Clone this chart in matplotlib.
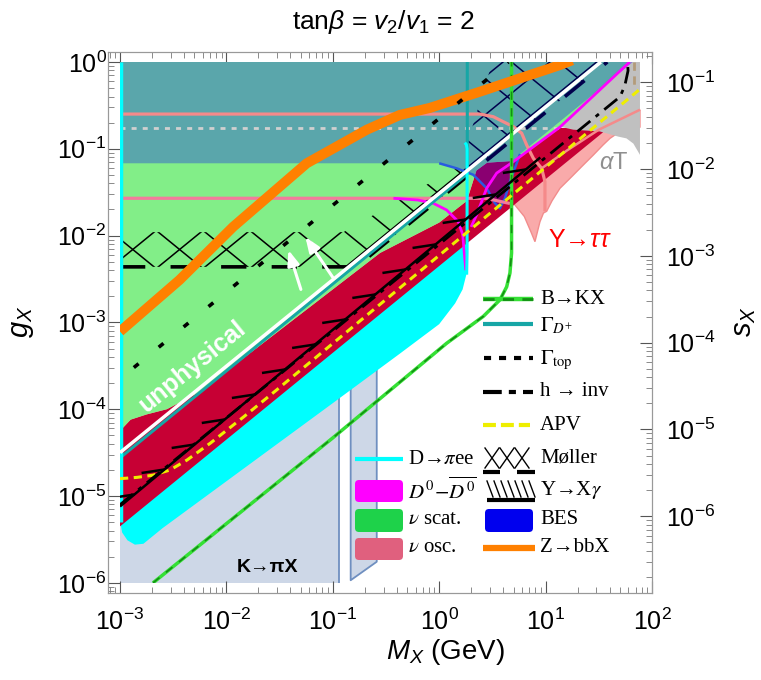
import numpy as np
import matplotlib
matplotlib.use("Agg")
import matplotlib.pyplot as plt
import matplotlib.transforms as mtransforms
import matplotlib.patheffects as pe
from matplotlib.lines import Line2D
from matplotlib.patches import Polygon, Rectangle, FancyBboxPatch
from matplotlib.ticker import FixedLocator, NullFormatter, LogFormatterSciNotation

plt.rcParams.update({
    "font.family": ["Liberation Sans", "DejaVu Sans"],
    "mathtext.fontset": "custom",
    "mathtext.rm": "Liberation Sans",
    "mathtext.it": "Liberation Sans:italic",
    "mathtext.bf": "Liberation Sans:bold",
})

# every curve below is (log10 M_X / GeV, log10 g_X)
K_MAIN = [(-3.0, -6.0), (-0.942, -6.0), (-0.942, -3.0), (-3.0, -3.0)]
K_STRIP = [(-0.832, -5.97), (-0.587, -5.757), (-0.587, -3.0), (-0.832, -3.0)]

D_PIEE = [(-3.0, 0.0), (-3.0, -5.28), (-2.98, -5.42), (-2.93, -5.51), (-2.86, -5.56),
          (-2.78, -5.55), (-2.6, -5.37), (-2.0, -4.83), (-1.0, -3.93), (-0.37, -3.36),
          (0.0, -3.02), (0.15, -2.78), (0.22, -2.62), (0.255, -2.45), (0.26, -2.2),
          (0.26, 0.0)]
D_PIEE_LEFT = [(-2.99, 0.0), (-2.99, -5.3)]
D_PIEE_RIGHT = [(0.258, -2.45), (0.262, -2.2), (0.262, -1.0), (0.255, -0.95), (0.24, -0.93)]

UPS_TAUTAU = [(-3.0, -0.60), (0.383, -0.60), (0.508, -0.63), (0.602, -0.688), (0.697, -0.745),
              (0.775, -0.82), (0.822, -0.956), (0.885, -1.11), (0.963, -1.225), (1.2, -1.02),
              (1.5, -0.78), (1.887, -0.55), (1.887, -0.75), (1.7, -0.80), (1.605, -0.88),
              (1.54, -0.956), (1.45, -1.07), (1.354, -1.187), (1.23, -1.34), (1.135, -1.455),
              (1.06, -1.6), (1.01, -1.72), (0.98, -1.74), (0.947, -1.84), (0.90, -2.07),
              (0.86, -1.95), (0.80, -1.78), (0.70, -1.63), (-3.0, -5.30)]
UPS_TAUTAU_LINE = [(-3.0, -0.60), (0.383, -0.60), (0.508, -0.63), (0.602, -0.688),
                   (0.697, -0.745), (0.775, -0.82), (0.822, -0.956), (0.885, -1.11),
                   (0.963, -1.225), (0.994, -1.38), (0.994, -1.72)]
UPS_TAUTAU_LINE2 = [(0.963, -1.225), (1.2, -1.02), (1.5, -0.78), (1.887, -0.55)]

BAND_TOP = [(1.54, -0.76), (1.135, -0.76), (0.697, -1.14), (0.45, -1.16), (0.35, -1.25),
            (0.26, -1.6), (0.0, -1.85), (-0.556, -2.2), (-2.25, -3.8), (-2.56, -4.0),
            (-2.75, -4.06), (-2.9, -4.12), (-3.0, -4.25)]
BAND_LOW = [(-3.0, -5.35), (1.54, -0.81)]

ALPHA_T = [(0.9, 0.0), (1.887, 0.0), (1.887, -1.07), (1.825, -0.94), (1.76, -0.88),
           (1.684, -0.86), (1.51, -0.80), (1.26, -0.78), (1.135, -0.745), (0.9, -0.745)]

NU_SCAT = [(-3.0, 0.0), (1.79, 0.0), (1.135, -0.76), (0.697, -1.14), (0.45, -1.16),
           (0.35, -1.25), (0.26, -1.6), (0.0, -1.85), (-0.556, -2.2), (-2.25, -3.8),
           (-2.56, -4.0), (-2.75, -4.06), (-2.9, -4.12), (-3.0, -4.25)]

BES = [(-3.0, 0.0), (1.82, 0.0), (0.76, -1.06), (0.665, -1.379), (0.618, -1.57),
       (0.571, -1.686), (0.524, -1.628), (0.446, -1.455), (0.321, -1.30), (0.164, -1.225),
       (0.0, -1.167), (-3.0, -1.167)]

MOLLER = [(-3.0, -2.36), (-0.78, -2.36), (1.58, 0.0), (0.5, 0.0), (0.2, -1.19),
          (-0.37, -1.59), (-0.9, -1.96), (-3.0, -1.96)]

NU_OSC_LINE = [(-3.0, -1.57), (0.45, -1.57), (0.55, -1.6), (0.665, -1.63)]
GRAY_DASH = [(-3.0, -0.755), (1.13, -0.755)]
D0_LEFT = [(-0.43, -1.57), (-0.2, -1.59), (-0.055, -1.628), (0.07, -1.705), (0.18, -1.84),
           (0.221, -1.99), (0.243, -2.30), (0.25, -2.4)]
D0_RIGHT = [(0.30, -1.9), (0.352, -1.76), (0.446, -1.455), (0.54, -1.28), (0.697, -1.148),
            (0.947, -0.92), (1.135, -0.75), (1.79, 0.0)]

GAMMA_DP = [(-3.0, -4.56), (0.264, -1.29), (0.264, 0.0)]
UNPHYS = [(-3.0, -4.50), (1.52, 0.0)]
B_KX = [(-2.69, -6.0), (-1.0, -4.33), (0.07, -3.24), (0.415, -2.93), (0.571, -2.74),
        (0.634, -2.59), (0.665, -2.43), (0.68, -2.2), (0.68, 0.0)]
GAMMA_TOP = [(-2.87, -3.52), (0.65, 0.0)]
H_INV = [(-3.0, -5.10), (1.70, -0.40), (1.745, -0.27), (1.775, -0.1), (1.77, 0.0)]
UPS_XGAMMA = [(-3.0, -5.12), (0.95, -1.10)]
APV = [(-3.0, -4.80), (-2.84, -4.785), (-2.69, -4.76), (-2.53, -4.70), (-2.37, -4.585),
       (-2.15, -4.39), (-1.84, -4.09), (-1.53, -3.78), (1.90, -0.30)]
Z_BBX = [(-3.0, -3.105), (-2.44, -2.51), (-1.935, -1.897), (-1.245, -1.167), (-0.68, -0.78),
         (-0.37, -0.61), (-0.09, -0.53), (0.383, -0.342), (0.853, -0.15), (1.135, -0.035),
         (1.25, 0.02)]
TAN_MARK = [(1.83, 0.0), (1.83, -0.3)]
ARROWS = [((-0.995, -2.49), (-1.258, -2.014)), ((-1.30, -2.62), (-1.417, -2.166))]

X_DECADES = [-3, -2, -1, 0, 1, 2]
G_DECADES = [-6, -5, -4, -3, -2, -1, 0]
S_DECADES = [-6, -5, -4, -3, -2, -1]

XLIM = (10 ** -3.1128, 1e2)
YLIM = (10 ** -6.117, 10 ** 0.115)
S_OVER_G = 0.171

W, H = 761, 680


def dec(pts):
    a = 10.0 ** np.asarray(pts, dtype=float)
    return a[:, 0], a[:, 1]


def log_ticks(lo, hi, decades):
    major = [10.0 ** d for d in decades]
    minor = [m * 10.0 ** d for d in range(min(decades) - 1, max(decades) + 1)
             for m in range(2, 10) if lo <= m * 10.0 ** d <= hi]
    return major, minor


fig = plt.figure(figsize=(W / 100, H / 100), dpi=100)
ax = fig.add_axes([108 / W, 87 / H, 544 / W, 541 / H])
ax.set_xscale("log")
ax.set_yscale("log")
ax.set_xlim(*XLIM)
ax.set_ylim(*YLIM)
clip = Rectangle((1e-3, 1e-6), 100 - 1e-3, 1 - 1e-6, transform=ax.transData)


def area(pts, color, z, **kw):
    x, y = dec(pts)
    p = Polygon(np.column_stack([x, y]), closed=True, facecolor=color,
                edgecolor=kw.pop("edgecolor", "none"), zorder=z, **kw)
    ax.add_patch(p)
    p.set_clip_path(clip)
    return p


def curve(pts, color, lw, z, **kw):
    x, y = dec(pts)
    ln, = ax.plot(x, y, color=color, lw=lw, zorder=z, solid_capstyle="butt", **kw)
    ln.set_clip_path(clip)
    return ln


# filled regions, back to front
area(K_MAIN, "#cdd7e7", 1)
area(K_STRIP, "#cdd7e7", 1)
for seg in ([(-0.942, -6.0), (-0.942, -3.0)],
            [(-0.832, -3.0), (-0.832, -5.97), (-0.587, -5.757), (-0.587, -3.0)]):
    curve(seg, "#6f8fc0", 1.3, 1.2)
area(D_PIEE, "#00ffff", 2)
area(UPS_TAUTAU, "#f9aaaa", 2.5, edgecolor="#f28c8c", lw=1.0)
area(BAND_LOW + BAND_TOP, "#c70034", 3)
area(ALPHA_T, "#c0c0c0", 3.5)
area(NU_SCAT, "#82ee88", 4)

moller = Polygon(np.column_stack(dec(MOLLER)), closed=True, facecolor="none",
                 edgecolor="none", zorder=4.5)
ax.add_patch(moller)
for k in range(-12, 22):
    for sgn, c0 in ((1, 0.72), (-1, -5.04)):
        lx = np.array([-3.5, 2.5])
        ly = sgn * lx + c0 + 0.44 * k
        hl, = ax.plot(10 ** lx, 10 ** ly, color="black", lw=1.1, zorder=4.5)
        hl.set_clip_path(moller)
curve([(-3.0, -2.36), (-0.78, -2.36), (1.58, 0.0)], "black", 2.6, 4.6, dashes=(7, 7))

area(BES, "#0000ff", 5, alpha=0.3)
curve(BES[2:-1], "#2a5ae0", 1.8, 5.2)

# boundary lines
curve(UPS_TAUTAU_LINE, "#f58a8a", 2.3, 6)
curve(UPS_TAUTAU_LINE2, "#f58a8a", 1.8, 6)
curve(NU_OSC_LINE, "#f27b9c", 2.3, 6)
curve(GRAY_DASH, "#d0d0d0", 2.0, 6, dashes=(1.8, 2.2))
curve(D0_LEFT, "#ff00ff", 2.0, 6.1)
curve(D0_RIGHT, "#ff00ff", 2.0, 6.1)
curve(GAMMA_DP, "#17a6a6", 2.2, 6.2)
curve(D_PIEE_LEFT, "#00ffff", 2.5, 6.3)
curve(D_PIEE_RIGHT, "#00ffff", 2.2, 6.3)
curve(UNPHYS, "white", 2.5, 6.5)
curve(B_KX, "#35e035", 2.5, 6.6)
curve(B_KX, "#138f13", 1.2, 6.7, dashes=(5, 5))
curve(APV, "#eeee00", 2.2, 6.8, dashes=(2.7, 1.8))
curve(H_INV, "black", 2.0, 6.9, dashes=(6, 2.5, 1.5, 2.5))
yx = curve(UPS_XGAMMA, "black", 1.8, 7.0)
yx.set_path_effects([pe.withTickedStroke(spacing=27, angle=149, length=0.62)])
curve(TAN_MARK, "#b39b7a", 2.0, 7.0, dashes=(3, 2))
curve(Z_BBX, "#ff8000", 7.2, 7.2)
curve(GAMMA_TOP, "black", 2.6, 7.5, dashes=(1.7, 7.2))

for tail, tip in ARROWS:
    ax.annotate("", xy=(10 ** tip[0], 10 ** tip[1]), xytext=(10 ** tail[0], 10 ** tail[1]),
                arrowprops=dict(arrowstyle="-|>,head_width=0.35,head_length=0.9",
                                color="white", lw=2.2, shrinkA=0, shrinkB=0), zorder=7.6)

ax.text(10 ** -2.323, 10 ** -3.514, "unphysical", color="white", fontsize=18,
        fontweight="bold", rotation=39.2, rotation_mode="anchor", ha="center",
        va="center", zorder=8)
ax.text(10 ** -1.61, 10 ** -5.82, "K→πX", color="black", fontsize=14,
        fontweight="bold", ha="center", va="center", zorder=8)
ax.text(10 ** 1.323, 10 ** -2.05, r"Υ→$\tau\tau$", color="red", fontsize=18,
        ha="center", va="center", zorder=8)
ax.text(10 ** 1.643, 10 ** -1.163, r"$\alpha$T", color="#8f8f8f", fontsize=17,
        ha="center", va="center", zorder=8)

# frame and ticks
xmaj, xmin = log_ticks(*XLIM, X_DECADES)
gmaj, gmin = log_ticks(*YLIM, G_DECADES)
smaj, smin = log_ticks(YLIM[0] * S_OVER_G, YLIM[1] * S_OVER_G, S_DECADES)
for sp in ax.spines.values():
    sp.set_color("#999999")
ax.xaxis.set_major_locator(FixedLocator(xmaj))
ax.xaxis.set_minor_locator(FixedLocator(xmin))
ax.yaxis.set_major_locator(FixedLocator(gmaj))
ax.yaxis.set_minor_locator(FixedLocator(gmin))
ax.xaxis.set_major_formatter(LogFormatterSciNotation())
ax.yaxis.set_major_formatter(LogFormatterSciNotation())
ax.xaxis.set_minor_formatter(NullFormatter())
ax.yaxis.set_minor_formatter(NullFormatter())
ax.tick_params(which="major", direction="in", length=8.5, width=0.8, color="#555555",
               top=True, right=False, labelsize=18)
ax.tick_params(which="minor", direction="in", length=4.5, width=0.6, color="#777777",
               top=True, right=False)
ax.tick_params(axis="x", pad=11)
ax.tick_params(axis="y", pad=1)

ax2 = ax.twinx()
ax2.set_yscale("log")
ax2.set_ylim(YLIM[0] * S_OVER_G, YLIM[1] * S_OVER_G)
ax2.yaxis.set_major_locator(FixedLocator(smaj))
ax2.yaxis.set_minor_locator(FixedLocator(smin))
ax2.yaxis.set_major_formatter(LogFormatterSciNotation())
ax2.yaxis.set_minor_formatter(NullFormatter())
ax2.tick_params(which="major", direction="in", length=8.5, width=0.8, color="#555555",
                labelsize=18, pad=10)
ax2.tick_params(which="minor", direction="in", length=4.5, width=0.6, color="#777777")
for sp in ax2.spines.values():
    sp.set_color("#999999")

# labels placed in figure pixels (y measured from the top)
T = mtransforms.Affine2D().scale(1 / W, 1 / H) + fig.transFigure


def ftext(x, y, s, **kw):
    fig.text(x, H - y, s, transform=T, **kw)


ftext(383, 22, r"tan$\beta$ = $v_2/v_1$ = 2", fontsize=19, ha="center", va="center")
ftext(445, 652, r"$M_X$ (GeV)", fontsize=20, ha="center", va="center")
ftext(22, 322, r"$g_X$", fontsize=21, ha="center", va="center", rotation=90)
ftext(744, 322, r"$s_X$", fontsize=21, ha="center", va="center", rotation=90)

# legends
SERIF = dict(fontfamily="Liberation Serif", fontsize=15, va="center", ha="left",
             math_fontfamily="stix")


def fline(x0, x1, y, **kw):
    fig.add_artist(Line2D([x0, x1], [H - y, H - y], transform=T, solid_capstyle="butt", **kw))


def fbox(x0, y0, x1, y1, color):
    fig.add_artist(FancyBboxPatch((x0, H - y1), x1 - x0, y1 - y0, transform=T,
                                  boxstyle="round,pad=0,rounding_size=4",
                                  facecolor=color, edgecolor="none"))


fline(483, 533, 299, color="#35e035", lw=3.2)
fline(483, 533, 299, color="#138f13", lw=2.0, dashes=(4, 3))
ftext(540, 299, "B→KX", **SERIF)
fline(483, 533, 324, color="#17a6a6", lw=3.0)
ftext(540, 326, r"$\Gamma_{D^{+}}$", **SERIF)
fline(484, 533, 358, color="black", lw=3.0, dashes=(1.7, 1.9))
ftext(540, 360, r"$\Gamma_{\rm top}$", **SERIF)
fline(483, 533, 392, color="black", lw=3.0, dashes=(4.5, 1.7, 1.7, 1.7))
ftext(540, 392, "h → inv", **SERIF)
fline(483, 530, 425, color="#eeee00", lw=3.0, dashes=(3.1, 1.2))
ftext(540, 425, "APV", **SERIF)
for cx in (492, 507, 522):
    fig.add_artist(Line2D([cx - 7, cx + 7], [H - 448, H - 468], transform=T, color="black", lw=1.0))
    fig.add_artist(Line2D([cx - 7, cx + 7], [H - 468, H - 448], transform=T, color="black", lw=1.0))
fline(483, 500, 472, color="black", lw=3.0)
fline(517, 535, 472, color="black", lw=3.0)
ftext(540, 458, "Møller", **SERIF)

fline(355, 403, 459, color="#00ffff", lw=3.0)
ftext(408, 459, r"D→$\pi$ee", **SERIF)
fbox(355, 480, 403, 502, "#ff00ff")
ftext(408, 491, r"$D^0\!-\!\overline{D^0}$", **SERIF)
fbox(355, 509, 403, 532, "#1ed24a")
ftext(408, 520, r"$\nu$ scat.", **SERIF)
fbox(355, 538, 403, 560, "#e0607e")
ftext(408, 548, r"$\nu$ osc.", **SERIF)

for i in range(7):
    x = 487 + 7 * i
    fig.add_artist(Line2D([x, x + 6], [H - 481, H - 497], transform=T, color="black", lw=1.0))
fline(487, 535, 500, color="black", lw=3.0)
ftext(540, 490, r"Υ→X$\gamma$", **SERIF)
fbox(485, 509, 533, 532, "#0000ee")
ftext(540, 520, "BES", **SERIF)
fline(483, 535, 548, color="#ff8000", lw=4.5)
ftext(540, 548, "Z→bbX", **SERIF)

fig.savefig("out.png", dpi=100)
